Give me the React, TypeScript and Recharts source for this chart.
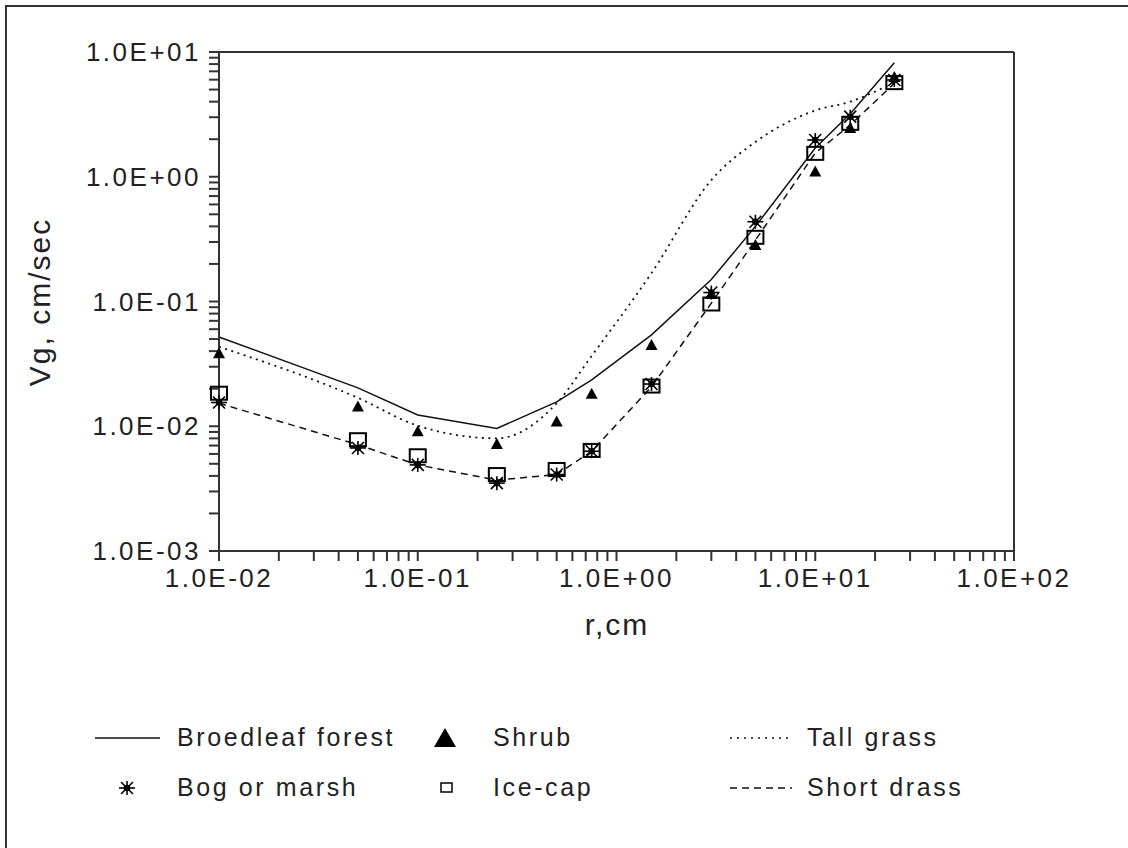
import * as React from 'react';
import {
  ComposedChart, Line, Scatter, XAxis, YAxis, ReferenceLine,
} from 'recharts';

// radius r (cm) at which every curve / marker set was evaluated
const radii = [0.01, 0.05, 0.1, 0.25, 0.5, 0.75, 1.5, 3, 5, 10, 15, 25];

// deposition velocity Vg (cm/sec)
const broadleafForest = [0.052, 0.0203, 0.0123, 0.0096, 0.0157, 0.0235, 0.054, 0.15, 0.40, 1.7, 3.2, 8.2];
const tallGrass = [0.0434, 0.0169, 0.0101, 0.008, 0.0153, 0.0366, 0.169, 0.94, 1.9, 3.4, 4.0, 5.7];
const shortGrass = [0.0153, 0.0071, 0.0049, 0.0037, 0.0041, 0.0063, 0.0207, 0.097, 0.31, 1.55, 2.6, 5.6];
const shrub = [0.0385, 0.0144, 0.0091, 0.0072, 0.0109, 0.0182, 0.0448, 0.115, 0.284, 1.1, 2.46, 6.3];
const bogOrMarsh = [0.0155, 0.0067, 0.0049, 0.0035, 0.0041, 0.0063, 0.0218, 0.118, 0.436, 1.97, 3.03, 5.97];
const iceCap = [0.0184, 0.0078, 0.0058, 0.0041, 0.0045, 0.0064, 0.021, 0.0955, 0.327, 1.54, 2.68, 5.68];

const xTicks = [
  0.01, 0.02, 0.03, 0.04, 0.05, 0.06, 0.07, 0.08, 0.09,
  0.1, 0.2, 0.3, 0.4, 0.5, 0.6, 0.7, 0.8, 0.9,
  1, 2, 3, 4, 5, 6, 7, 8, 9,
  10, 20, 30, 40, 50, 60, 70, 80, 90, 100,
];
const yTicks = [
  0.001, 0.002, 0.003, 0.004, 0.005, 0.006, 0.007, 0.008, 0.009,
  0.01, 0.02, 0.03, 0.04, 0.05, 0.06, 0.07, 0.08, 0.09,
  0.1, 0.2, 0.3, 0.4, 0.5, 0.6, 0.7, 0.8, 0.9,
  1, 2, 3, 4, 5, 6, 7, 8, 9, 10,
];
const xMajor = [0.01, 0.1, 1, 10, 100];
const xMajorLabels = ['1.0E-02', '1.0E-01', '1.0E+00', '1.0E+01', '1.0E+02'];
const yMajor = [0.001, 0.01, 0.1, 1, 10];
const yMajorLabels = ['1.0E-03', '1.0E-02', '1.0E-01', '1.0E+00', '1.0E+01'];

const FONT = '"Liberation Sans", Arial, Helvetica, sans-serif';
const INK = '#222';
const AXIS = '#333';

const toPoints = (vals: number[]) => radii.map((r, i) => ({ r, v: vals[i] }));

function majorLabel(majors: number[], labels: string[]) {
  return (v: number) => {
    const i = majors.findIndex(m => Math.abs(m - v) / m < 1e-6);
    return i >= 0 ? labels[i] : '';
  };
}

function Triangle(props: any) {
  const { cx, cy } = props;
  if (cx == null || cy == null) return null;
  return <polygon points={`${cx},${cy - 6} ${cx - 6},${cy + 5} ${cx + 6},${cy + 5}`} fill="#000" />;
}

function Star(props: any) {
  const { cx, cy } = props;
  if (cx == null || cy == null) return null;
  return (
    <g stroke="#000" strokeWidth={1.6}>
      <line x1={cx - 8} y1={cy} x2={cx + 8} y2={cy} />
      <line x1={cx} y1={cy - 7} x2={cx} y2={cy + 7} />
      <line x1={cx - 6} y1={cy - 6} x2={cx + 6} y2={cy + 6} />
      <line x1={cx - 6} y1={cy + 6} x2={cx + 6} y2={cy - 6} />
      <circle cx={cx} cy={cy} r={2.5} fill="#000" />
    </g>
  );
}

function Square(props: any) {
  const { cx, cy } = props;
  if (cx == null || cy == null) return null;
  return <rect x={cx - 8} y={cy - 6.5} width={16} height={13} fill="none" stroke="#000" strokeWidth={2} />;
}

const textStyle: React.CSSProperties = {
  position: 'absolute', fontFamily: FONT, fontSize: 25, letterSpacing: 2.6,
  color: INK, lineHeight: '30px', whiteSpace: 'nowrap',
};

function LegendRow({ top, items }: { top: number; items: { icon: React.ReactNode; iconLeft: number; label: string; left: number }[] }) {
  return (
    <>
      {items.map(it => (
        <React.Fragment key={it.label}>
          <svg style={{ position: 'absolute', left: it.iconLeft, top: top - 12 }} width={70} height={24}>{it.icon}</svg>
          <div style={{ ...textStyle, left: it.left, top: top - 16 }}>{it.label}</div>
        </React.Fragment>
      ))}
    </>
  );
}

export default function App() {
  return (
    <div style={{ position: 'absolute', left: 0, top: 0, width: 1128, height: 848, background: '#fff', overflow: 'hidden' }}>
      {/* outer frame: only left and top edges show */}
      <div style={{ position: 'absolute', left: 5, top: 5, width: 1200, height: 900, borderLeft: `2px solid ${AXIS}`, borderTop: `2px solid ${AXIS}` }} />

      <div style={{ position: 'absolute', left: 0, top: 0 }}>
        <ComposedChart width={1128} height={848} margin={{ top: 52, right: 114, bottom: 237, left: 159 }}>
          <XAxis
            type="number"
            dataKey="r"
            scale="log"
            domain={[0.01, 100]}
            ticks={xTicks}
            interval={0}
            height={60}
            tickSize={10}
            tickMargin={8}
            tickFormatter={majorLabel(xMajor, xMajorLabels)}
            axisLine={{ stroke: AXIS, strokeWidth: 2 }}
            tickLine={{ stroke: AXIS, strokeWidth: 2 }}
            tick={{ fontSize: 26, fill: INK, fontFamily: FONT, letterSpacing: 2.5 }}
          />
          <YAxis
            type="number"
            dataKey="v"
            scale="log"
            domain={[0.001, 10]}
            ticks={yTicks}
            interval={0}
            width={60}
            tickSize={10}
            tickMargin={8}
            tickFormatter={majorLabel(yMajor, yMajorLabels)}
            axisLine={{ stroke: AXIS, strokeWidth: 2 }}
            tickLine={{ stroke: AXIS, strokeWidth: 2 }}
            tick={{ fontSize: 26, fill: INK, fontFamily: FONT, letterSpacing: 2.5 }}
          />
          <ReferenceLine y={10} stroke={AXIS} strokeWidth={2} />
          <ReferenceLine x={100} stroke={AXIS} strokeWidth={2} />

          <Line data={toPoints(broadleafForest)} dataKey="v" type="linear" stroke="#111" strokeWidth={1.5} dot={false} isAnimationActive={false} />
          <Line data={toPoints(tallGrass)} dataKey="v" type="monotone" stroke="#111" strokeWidth={1.8} strokeDasharray="2 4.5" dot={false} isAnimationActive={false} />
          <Line data={toPoints(shortGrass)} dataKey="v" type="linear" stroke="#111" strokeWidth={1.5} strokeDasharray="7 5" dot={false} isAnimationActive={false} />

          <Scatter data={toPoints(shrub)} dataKey="v" shape={<Triangle />} isAnimationActive={false} />
          <Scatter data={toPoints(iceCap)} dataKey="v" shape={<Square />} isAnimationActive={false} />
          <Scatter data={toPoints(bogOrMarsh)} dataKey="v" shape={<Star />} isAnimationActive={false} />
        </ComposedChart>
      </div>

      {/* axis titles */}
      <div style={{ ...textStyle, fontSize: 30, letterSpacing: 2, left: 40, top: 302, transform: 'translate(-50%, -50%) rotate(-90deg)' }}>Vg, cm/sec</div>
      <div style={{ ...textStyle, fontSize: 30, letterSpacing: 2, left: 617, top: 625, transform: 'translate(-50%, -50%)' }}>r,cm</div>

      {/* legend */}
      <LegendRow
        top={738}
        items={[
          { icon: <line x1={0} y1={12} x2={65} y2={12} stroke="#111" strokeWidth={1.5} />, iconLeft: 95, label: 'Broedleaf forest', left: 177 },
          { icon: <polygon points="11,2 0,21 22,21" fill="#000" />, iconLeft: 434, label: 'Shrub', left: 493 },
          { icon: <line x1={0} y1={12} x2={62} y2={12} stroke="#111" strokeWidth={1.5} strokeDasharray="2 5" />, iconLeft: 730, label: 'Tall grass', left: 807 },
        ]}
      />
      <LegendRow
        top={788}
        items={[
          { icon: <Star cx={9} cy={12} />, iconLeft: 118, label: 'Bog or marsh', left: 177 },
          { icon: <rect x={1} y={7} width={11} height={9} fill="none" stroke="#000" strokeWidth={1.5} />, iconLeft: 440, label: 'Ice-cap', left: 493 },
          { icon: <line x1={0} y1={12} x2={62} y2={12} stroke="#111" strokeWidth={1.5} strokeDasharray="7 5" />, iconLeft: 730, label: 'Short drass', left: 807 },
        ]}
      />
    </div>
  );
}
